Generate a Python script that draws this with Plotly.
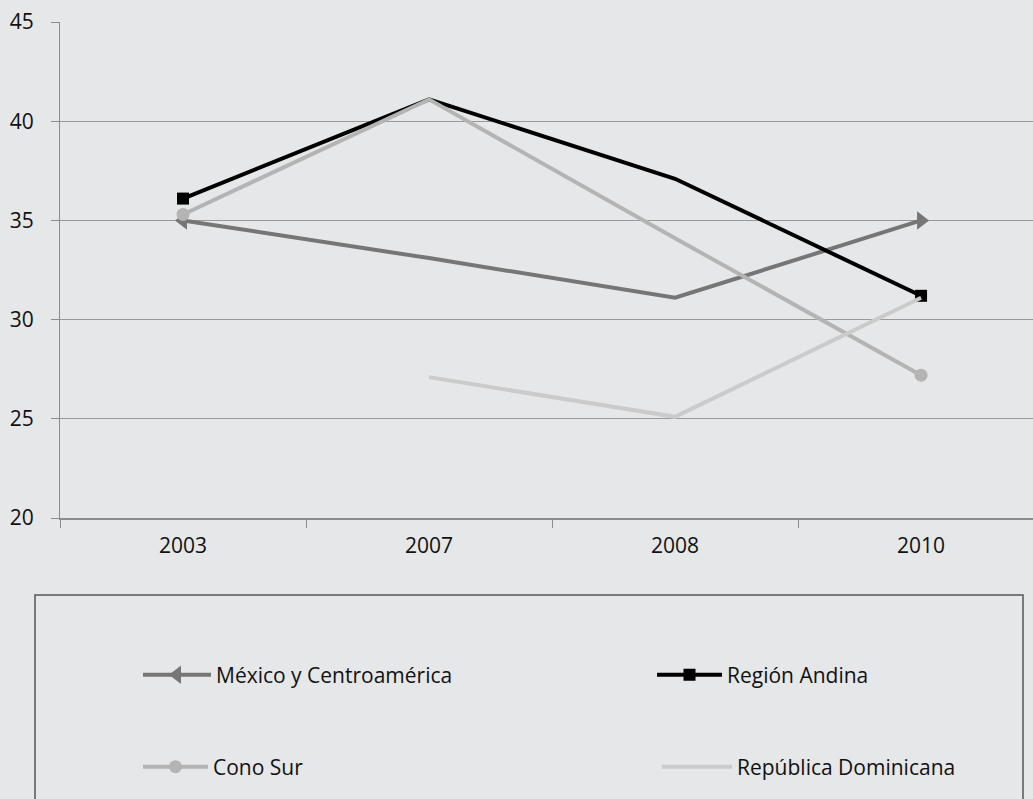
import plotly.graph_objects as go

years = ["2003", "2007", "2008", "2010"]
mexico = [35.0, 33.1, 31.1, 35.0]
andina = [36.1, 41.1, 37.1, 31.2]
cono_sur = [35.3, 41.1, 34.1, 27.2]
rep_dom = [None, 27.1, 25.1, 31.1]

FONT = "Open Sans, Noto Sans, DejaVu Sans Condensed, sans-serif"
BG = "#e6e7e8"

fig = go.Figure()

fig.add_trace(go.Scatter(
    x=years, y=mexico, name="México y Centroamérica", mode="lines+markers",
    line=dict(color="#767676", width=4),
    marker=dict(symbol=["triangle-left", "line-ew", "line-ew", "triangle-right"],
                size=16, color="#767676", line=dict(width=0)),
    legend="legend", showlegend=True, cliponaxis=False))
fig.add_trace(go.Scatter(
    x=years, y=andina, name="Región Andina", mode="lines+markers",
    line=dict(color="#000000", width=4),
    marker=dict(symbol=["square", "line-ew", "line-ew", "square"],
                size=12, color="#000000", line=dict(width=0)),
    legend="legend2", showlegend=True, cliponaxis=False))
fig.add_trace(go.Scatter(
    x=years, y=cono_sur, name="Cono Sur", mode="lines+markers",
    line=dict(color="#b4b4b4", width=4),
    marker=dict(symbol=["circle", "line-ew", "line-ew", "circle"],
                size=13, color="#b4b4b4", line=dict(width=0)),
    legend="legend3", showlegend=True, cliponaxis=False))
fig.add_trace(go.Scatter(
    x=years, y=rep_dom, name="República Dominicana", mode="lines",
    line=dict(color="#cbcbcb", width=4),
    legend="legend4", showlegend=True, cliponaxis=False))

def leg(xpx, ypx, iw):
    return dict(
        orientation="h", x=(xpx - 65) / 973, xanchor="left",
        y=(518 - ypx) / 496, yanchor="middle",
        bgcolor="rgba(0,0,0,0)", borderwidth=0, itemwidth=iw,
        font=dict(family=FONT, size=21, color="#111111"))

fig.update_layout(
    width=1033, height=799,
    showlegend=True,
    paper_bgcolor=BG, plot_bgcolor=BG,
    margin=dict(l=60, r=0, t=22, b=281),
    font=dict(family=FONT, size=20, color="#111111"),
    xaxis=dict(
        type="category", range=[-0.5, 3.455], tickson="boundaries",
        ticks="outside", ticklen=8, tickcolor="#8c8c8c", tickwidth=1,
        showgrid=False, showline=True, linecolor="#8c8c8c", linewidth=1.5,
        tickfont=dict(size=21), zeroline=False, ticklabelstandoff=8),
    yaxis=dict(
        range=[20, 45], dtick=5, tick0=20,
        ticks="outside", ticklen=8, tickcolor="#8c8c8c", tickwidth=1,
        showgrid=True, gridcolor="#999999", gridwidth=1.2,
        showline=True, linecolor="#8c8c8c", linewidth=1,
        tickfont=dict(size=21), zeroline=False, ticklabelstandoff=13),
    legend=leg(143, 675, 68),
    legend2=leg(657, 675, 65),
    legend3=leg(143, 767, 65),
    legend4=leg(662, 767, 70),
    shapes=[dict(type="rect", xref="paper", yref="paper",
                 x0=(35 - 60) / 973, x1=(1023 - 60) / 973,
                 y0=(518 - 595) / 496, y1=(518 - 820) / 496,
                 line=dict(color="#555555", width=1.5), fillcolor="rgba(0,0,0,0)",
                 layer="below")],
)

fig.write_html("out.html", config={"displayModeBar": False},
               post_script="document.body.style.margin='0';document.body.style.overflow='hidden';")
